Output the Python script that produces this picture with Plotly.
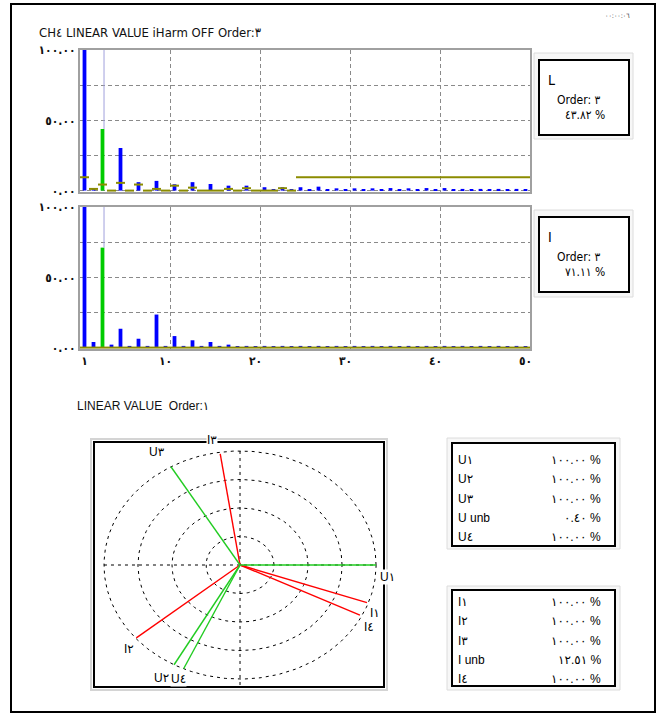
import numpy as np
import plotly.graph_objects as go

W, H = 662, 717

# ---------------- data ----------------
orders = list(range(1, 51))
selected_order = 3

u_harm = [100.0, 1.5, 43.82, 0.3, 30.3, 0.3, 6.0, 0.3, 6.9, 0.3,
          4.5, 0.3, 6.0, 0.3, 4.7, 0.3, 3.5, 0.3, 3.5, 0.3,
          2.4, 0.8, 2.4, 0.8, 2.4, 1.0, 2.8, 1.0, 1.6, 1.0,
          1.6, 1.0, 1.6, 1.0, 1.8, 1.0, 1.6, 1.0, 1.8, 1.0,
          1.8, 1.0, 1.2, 1.0, 1.2, 1.0, 1.2, 1.0, 1.2, 1.0]
u_limit = [9.5, 1.2, 4.3, 0, 5.5, 0, 4.3, 0, 1.2, 0,
           3.5, 0, 2.1, 0, 0, 0, 1.2, 0, 1.7, 0,
           0, 0, 1.7, 0, 9.5, 9.5, 9.5, 9.5, 9.5, 9.5,
           9.5, 9.5, 9.5, 9.5, 9.5, 9.5, 9.5, 9.5, 9.5, 9.5,
           9.5, 9.5, 9.5, 9.5, 9.5, 9.5, 9.5, 9.5, 9.5, 9.5]
i_harm = [100.0, 4.0, 71.11, 2.1, 13.4, 1.2, 6.3, 1.2, 23.5, 1.2,
          8.2, 1.2, 5.2, 1.2, 4.0, 1.2, 2.1, 1.0, 1.2, 1.0,
          1.2, 1.0, 1.2, 1.0, 1.2, 1.0, 1.2, 1.0, 1.2, 1.0,
          1.2, 1.0, 1.2, 1.0, 1.2, 1.0, 1.2, 1.0, 1.2, 1.0,
          1.2, 1.0, 1.2, 1.0, 1.2, 1.0, 1.2, 1.0, 1.2, 1.0]
i_limit = [0, 0, 0, 0, 0, 0, 0, 0, 0, 0,
           0, 0, 0, 0, 0, 0, 0, 0, 0, 0,
           0, 0, 0, 0, 0, 0, 0, 0, 0, 0,
           0, 0, 0, 0, 0, 0, 0, 0, 0, 0,
           0, 0, 0, 0, 0, 0, 0, 0, 0, 0]

x_tickvals = [1, 10, 20, 30, 40, 50]
x_ticktext = ["١", "١٠", "٢٠", "٣٠", "٤٠", "٥٠"]
y_tickvals = [0, 50, 100]
y_ticktext = ["٠.٠٠", "٥٠.٠٠", "١٠٠.٠٠"]

title_text = "CH٤ LINEAR VALUE iHarm OFF Order:٣"
phasor_title = "LINEAR VALUE  Order:١"
u_box = ["L", "Order: ٣", "٤٣.٨٢ %"]
i_box = ["I", "Order: ٣", "٧١.١١ %"]
clock_text = "٠٠:٠٠:٠٦"

u_names = ["U١", "U٢", "U٣", "U٤"]
u_mag = [100, 100, 100, 100]
u_ang = [0, 241, 120.5, 245.5]
i_names = ["I١", "I٢", "I٣", "I٤"]
i_mag = [99, 99.5, 98.5, 98.5]
i_ang = [-19.5, 220, 98.5, -26.5]
ring_radii = [25, 50, 75, 100]

u_table_names = ["U١", "U٢", "U٣", "U unb", "U٤"]
u_table_vals = ["١٠٠.٠٠ %", "١٠٠.٠٠ %", "١٠٠.٠٠ %", "٠.٤٠ %", "١٠٠.٠٠ %"]
i_table_names = ["I١", "I٢", "I٣", "I unb", "I٤"]
i_table_vals = ["١٠٠.٠٠ %", "١٠٠.٠٠ %", "١٠٠.٠٠ %", "١٢.٥١ %", "١٠٠.٠٠ %"]

# ---------------- styles / layout helpers ----------------
FONT = "Liberation Sans Narrow, DejaVu Sans Condensed, DejaVu Sans, sans-serif"
FONT2 = "Liberation Sans, DejaVu Sans, sans-serif"
BLUE = "#0000ff"
GREEN = "#00cc00"
OLIVE = "#8c8c00"
GRID = "#8a8a8a"
FRAME = "#a0a0a0"
DASH = "4px,3px"


def px(x):
    return x / W


def py(y):
    return 1 - y / H


fig = go.Figure()


def harmonic_panel(vals, limits, xa, ya):
    colors = [GREEN if o == selected_order else BLUE for o in orders]
    fig.add_trace(go.Bar(x=orders, y=vals, marker_color=colors, width=0.42,
                         marker_line_width=0, xaxis=xa, yaxis=ya,
                         showlegend=False, hoverinfo="x+y"))
    lx, ly = [], []
    for o, v in zip(orders, limits):
        lx += [o - 0.5, o + 0.5, None]
        ly += [v, v, None]
    fig.add_trace(go.Scatter(x=lx, y=ly, mode="lines",
                             line=dict(color=OLIVE, width=2),
                             xaxis=xa, yaxis=ya, showlegend=False,
                             hoverinfo="skip"))
    sel_val = vals[orders.index(selected_order)]
    fig.add_trace(go.Scatter(x=[selected_order + 0.17, selected_order + 0.17],
                             y=[sel_val, 100], mode="lines",
                             line=dict(color="#a0a0dc", width=1),
                             xaxis=xa, yaxis=ya, showlegend=False,
                             hoverinfo="skip"))


harmonic_panel(u_harm, u_limit, "x", "y")
harmonic_panel(i_harm, i_limit, "x2", "y2")

# ---------------- phasor diagram ----------------
t = np.linspace(0, 2 * np.pi, 361)
for r in ring_radii:
    fig.add_trace(go.Scatter(x=r * np.cos(t), y=r * np.sin(t), mode="lines",
                             line=dict(color="black", width=1, dash="3px,4px"),
                             xaxis="x3", yaxis="y3", showlegend=False,
                             hoverinfo="skip"))
R = max(ring_radii)
PY_RANGE = [-106.1, 107.0]
PX_RANGE = [-106.6, 105.1]
fig.add_trace(go.Scatter(x=[-R, R], y=[0, 0], mode="lines",
                         line=dict(color="black", width=1, dash="3px,4px"),
                         xaxis="x3", yaxis="y3", showlegend=False, hoverinfo="skip"))
fig.add_trace(go.Scatter(x=[0, 0], y=[R, PY_RANGE[0]], mode="lines",
                         line=dict(color="black", width=1, dash="3px,4px"),
                         xaxis="x3", yaxis="y3", showlegend=False, hoverinfo="skip"))

label_shift = {
    "U١": (11, -12), "U٢": (-13, -13), "U٣": (-14, 15), "U٤": (-5, -10),
    "I١": (8, -10), "I٢": (-7, -11), "I٣": (-8, 14), "I٤": (9, -12),
}

annotations = []


def phasors(names, mags, angs, color):
    for n, m, a in zip(names, mags, angs):
        ex = m * np.cos(np.radians(a))
        ey = m * np.sin(np.radians(a))
        fig.add_trace(go.Scatter(x=[0, ex], y=[0, ey], mode="lines",
                                 line=dict(color=color, width=1.4),
                                 xaxis="x3", yaxis="y3", showlegend=False,
                                 name=n))
        dx, dy = label_shift[n]
        annotations.append(dict(x=ex, y=ey, xref="x3", yref="y3", text=n,
                                showarrow=False, xshift=dx, yshift=dy,
                                xanchor="center", yanchor="middle",
                                bgcolor="white", borderpad=0,
                                font=dict(family=FONT2, size=12, color="black")))


phasors(i_names, i_mag, i_ang, "#ff0000")
phasors(u_names, u_mag, u_ang, "#22cc22")


def note(x, y, text, xanchor="center", family=FONT, size=13, color="black"):
    annotations.append(dict(x=px(x), y=py(y), xref="paper", yref="paper",
                            text=text, showarrow=False, xanchor=xanchor,
                            yanchor="middle",
                            font=dict(family=family, size=size, color=color)))


# ---------------- text ----------------
note(37, 32, title_text, "left", FONT, 13, "#111")
note(75, 406, phasor_title, "left", FONT2, 12, "#111")
note(632, 16, clock_text, "right", FONT, 7, "#333")

for lines, top in ((u_box, 60), (i_box, 217)):
    note(546, top + 20, lines[0], "left", FONT, 14)
    note(579, top + 40, lines[1], "center", FONT, 12)
    note(585, top + 55, lines[2], "center", FONT, 12)

for names, vals, top in ((u_table_names, u_table_vals, 460),
                         (i_table_names, i_table_vals, 602)):
    for k, (nm, v) in enumerate(zip(names, vals)):
        yy = top + k * 19.3
        note(456, yy, nm, "left", FONT2, 12)
        note(603, yy, v, "right", FONT2, 12)

# ---------------- frames ----------------
shapes = []


def rect(x0, y0, x1, y1, color, width, fill=None, layer="below"):
    shapes.append(dict(type="rect", xref="paper", yref="paper",
                       x0=px(x0), x1=px(x1), y0=py(y1), y1=py(y0),
                       line=dict(color=color, width=width),
                       fillcolor=fill if fill else "rgba(0,0,0,0)", layer=layer))


rect(11, 4, 655, 712, "black", 2)
# info boxes
rect(534, 53, 633, 139, "#dcdcdc", 1, "#f7f7f7")
rect(539, 60, 629, 135, "black", 2, "white")
rect(534, 210, 633, 297, "#dcdcdc", 1, "#f7f7f7")
rect(539, 217, 629, 292, "black", 2, "white")
# tables
rect(447, 438, 620, 549, "#dcdcdc", 1, "#f7f7f7")
rect(452, 443, 615, 546, "black", 2, "white")
rect(447, 586, 620, 690, "#dcdcdc", 1, "#f7f7f7")
rect(452, 590, 615, 686, "black", 2, "white")
# phasor box outer band
rect(91, 439, 387, 690, "#d4d4d4", 2)

# ---------------- axes ----------------
tickfont = dict(family=FONT, size=12, color="#111", weight="bold")
common_x = dict(range=[0.5, 50.5], showgrid=False, zeroline=False,
                showline=True, mirror=True, linecolor=FRAME, linewidth=2,
                ticks="", fixedrange=True,
                minor=dict(tick0=0.5, dtick=10, showgrid=True, gridcolor=GRID,
                           griddash=DASH, gridwidth=1, ticks=""))
common_y = dict(range=[-1, 100], showgrid=False, zeroline=False,
                showline=True, mirror=True, linecolor=FRAME, linewidth=2,
                ticks="", tickmode="array", tickvals=y_tickvals,
                ticktext=y_ticktext, tickfont=tickfont, fixedrange=True,
                minor=dict(tick0=0, dtick=25, showgrid=True, gridcolor=GRID,
                           griddash=DASH, gridwidth=1, ticks=""))

fig.update_layout(
    width=W, height=H, margin=dict(l=0, r=0, t=0, b=0),
    template="none", paper_bgcolor="white", plot_bgcolor="white",
    showlegend=False, barmode="overlay",
    xaxis=dict(domain=[px(80), px(530)], anchor="y", showticklabels=False,
               **common_x),
    yaxis=dict(domain=[py(192), py(50)], anchor="x", **common_y),
    xaxis2=dict(domain=[px(80), px(530)], anchor="y2", tickmode="array",
                tickvals=x_tickvals, ticktext=x_ticktext, tickfont=tickfont,
                **common_x),
    yaxis2=dict(domain=[py(349), py(207)], anchor="x2", **common_y),
    xaxis3=dict(domain=[px(95), px(383)], anchor="y3", range=PX_RANGE,
                showgrid=False, zeroline=False, showticklabels=False, ticks="",
                showline=True, mirror=True, linecolor="black", linewidth=2,
                fixedrange=True),
    yaxis3=dict(domain=[py(686), py(443)], anchor="x3", range=PY_RANGE,
                showgrid=False, zeroline=False, showticklabels=False, ticks="",
                showline=True, mirror=True, linecolor="black", linewidth=2,
                fixedrange=True),
    annotations=annotations, shapes=shapes,
)

fig.write_html("out.html",
               config={"displayModeBar": False},
               post_script="document.body.style.margin='0';"
                           "document.body.style.overflow='hidden';")
